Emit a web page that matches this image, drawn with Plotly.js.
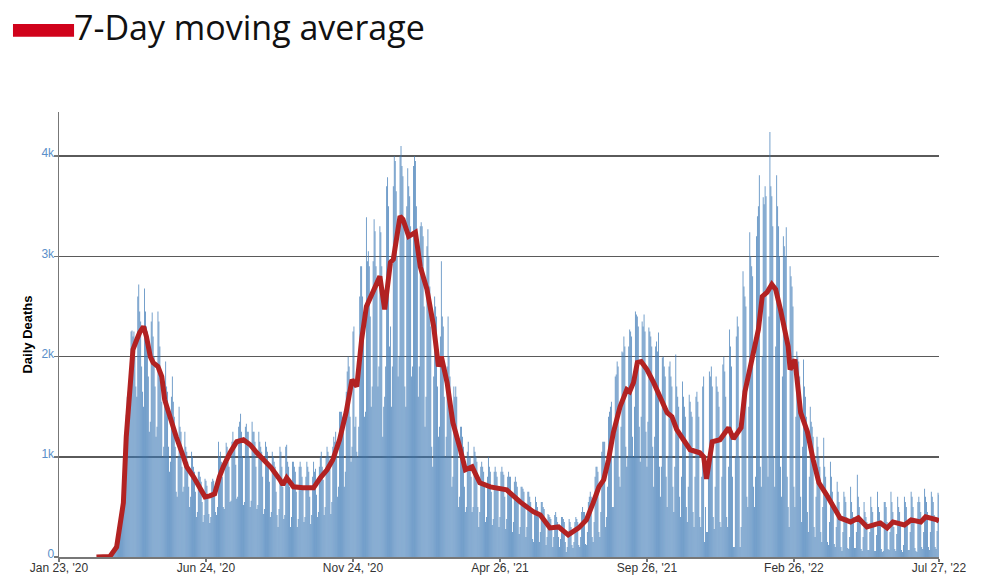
<!DOCTYPE html>
<html><head><meta charset="utf-8">
<script src="https://cdn.plot.ly/plotly-3.0.1.min.js"></script>
<style>html,body{margin:0;padding:0;background:#fff}#chart{width:987px;height:576px}</style>
</head><body><div id="chart"></div>
<script>
// First day of the daily series (a Sunday); one row per week below
const startDate = '2020-03-01';
const dailyDeaths = [
1,1,2,1,3,2,2,
2,4,5,6,8,9,12,
12,18,25,35,40,55,60,
110,140,190,240,280,370,420,
620,780,1050,1250,1420,1600,1650,
1500,1600,2250,2260,2200,2250,2000,
1700,1600,2600,2720,2450,2350,1900,
1650,1500,2680,2450,2300,2250,1800,
1250,1350,2350,2440,2200,2000,1700,
1200,1300,2450,2350,2100,1800,1550,
1000,1100,1750,1950,1700,1650,1100,
850,950,1600,1800,1550,1400,1100,
650,600,1000,1500,1300,1250,900,
650,700,1250,1100,1050,950,700,
500,600,1050,1000,900,850,650,
400,450,850,850,800,750,550,
350,420,780,760,710,620,430,
340,400,750,780,760,700,450,
420,500,1150,1000,1050,950,800,
500,480,1000,1140,1100,950,900,
550,560,1150,1250,1150,1100,920,
580,600,1300,1350,1430,1250,1000,
520,550,1300,1330,1250,1250,1000,
500,560,1350,1250,1250,1150,900,
480,520,1250,1150,1100,1050,800,
430,480,1150,1100,1050,950,750,
400,450,1050,1000,950,900,650,
420,300,480,1100,1050,900,700,
380,420,1100,1120,950,900,700,
300,400,950,950,900,850,650,
300,380,900,950,900,800,700,
350,400,800,950,900,850,600,
330,420,800,950,850,880,620,
400,450,900,1000,1050,900,770,
420,500,1000,1100,1050,1000,900,
430,550,1100,1200,1150,1250,1100,
600,700,1450,1450,1450,1400,1250,
700,850,1650,1850,2000,1900,1400,
950,1100,2250,2300,1300,1400,1050,
1000,1300,2600,2900,2900,2600,2300,
1400,1450,3390,2950,3050,2900,2400,
1500,1700,2950,3370,3250,2900,2700,
1700,1900,3300,3240,2900,1200,1500,
1600,1900,3700,3790,3500,2100,2300,
1500,1900,3700,4000,3950,3650,3000,
1800,2000,4000,4100,3900,3800,3300,
1700,1500,3500,3880,3700,3600,3300,
1800,1900,3900,4000,3950,3500,3100,
1600,1900,3300,3340,3300,3200,2500,
1300,1600,3100,3270,3000,2700,2300,
1100,900,1800,2600,2500,2400,1700,
1200,1300,2200,2950,2400,2300,1600,
1000,1200,1900,2400,2000,1800,1400,
700,800,1700,1600,1700,1600,1100,
500,600,1300,1300,1200,1100,700,
450,500,1050,1150,1000,1000,800,
450,500,1100,1050,1000,950,500,
300,450,900,950,900,850,700,
350,400,800,1000,900,850,650,
320,380,850,900,850,800,700,
300,400,850,900,850,820,600,
280,380,800,850,800,800,600,
250,350,750,800,750,700,550,
230,300,700,700,680,650,500,
200,300,650,650,600,550,450,
180,150,450,600,550,500,400,
150,250,550,550,500,480,350,
120,200,430,420,400,380,280,
100,200,420,450,400,350,200,
100,180,400,400,380,350,150,
50,100,250,380,350,300,120,
90,150,350,400,380,350,120,
100,200,450,500,450,450,130,
120,250,550,600,650,600,200,
150,350,800,900,900,850,250,
200,450,1050,1150,1150,1150,300,
400,700,1400,1450,1500,1550,500,
500,1000,1800,1820,1950,1900,800,
700,1300,2050,2040,2200,2100,1100,
900,1000,2100,2270,2250,2200,1200,
1000,1500,2450,2420,2400,2300,1300,
950,1400,2350,2300,2420,2250,1250,
900,1350,2290,2250,2200,2100,1100,
700,1200,2100,2150,2050,2240,900,
600,900,1990,2000,1900,1800,800,
500,1000,1900,1950,1800,1700,700,
450,900,2020,1700,1600,1500,600,
400,800,1750,1600,1500,1400,500,
350,700,1620,1550,1450,1400,450,
300,800,1600,1650,1550,1400,400,
300,800,1700,1800,150,500,250,
250,900,1850,1800,1900,1700,400,
280,700,1800,1700,1650,1500,350,
300,800,1920,2000,1850,1600,400,
300,900,2270,2100,1900,800,100,
100,1000,2200,2400,2300,1000,100,
300,1400,2850,2700,2600,2500,600,
500,1500,3240,3000,2900,2800,700,
500,800,3200,3400,3500,3810,900,
700,2000,3590,3520,3700,3600,1000,
800,2400,4240,3700,3600,3300,1000,
700,2100,3810,3500,3300,3000,900,
600,1800,3200,3100,3000,3290,800,
500,300,2900,2800,2700,2500,700,
500,1400,2050,2000,1950,1800,600,
350,1100,1970,1700,1600,1400,450,
250,800,1500,1350,1300,1200,300,
200,600,1200,1100,1000,900,250,
150,500,1190,900,800,650,150,
120,350,950,800,650,550,130,
100,300,750,650,550,400,100,
60,250,650,600,550,400,90,
80,200,700,550,450,400,90,
90,250,820,600,500,400,80,
60,200,550,450,400,350,70,
70,250,600,500,450,300,60,
60,220,650,500,450,350,80,
50,60,550,550,500,350,80,
70,250,650,550,450,300,80,
60,230,600,500,450,320,70,
50,120,600,550,500,350,70,
70,250,650,600,500,350,90,
60,50,550,600,550,450,100,
80,250,680,600,550,450,100,
70,250,650,600,550,420,100,
80,260,640,620
];

// 7-day moving average
const avgDates = [
'2020-03-02','2020-03-16','2020-03-23','2020-03-26','2020-03-30','2020-04-02','2020-04-06','2020-04-09',
'2020-04-13','2020-04-16','2020-04-20','2020-04-23','2020-04-27','2020-04-30','2020-05-05','2020-05-09',
'2020-05-12','2020-05-17','2020-05-24','2020-05-30','2020-06-04','2020-06-11','2020-06-18','2020-06-23',
'2020-06-28','2020-07-03','2020-07-08','2020-07-12','2020-07-19','2020-07-26','2020-08-02','2020-08-09',
'2020-08-16','2020-08-23','2020-08-31','2020-09-09','2020-09-12','2020-09-16','2020-09-23','2020-10-03',
'2020-10-14','2020-10-21','2020-10-28','2020-11-03','2020-11-10','2020-11-17','2020-11-23','2020-11-28',
'2020-12-03','2020-12-08','2020-12-15','2020-12-22','2020-12-27','2021-01-02','2021-01-05','2021-01-12',
'2021-01-15','2021-01-21','2021-01-28','2021-02-02','2021-02-09','2021-02-16','2021-02-21','2021-02-24',
'2021-03-02','2021-03-08','2021-03-15','2021-03-21','2021-03-28','2021-04-05','2021-04-16','2021-05-03',
'2021-05-17','2021-05-31','2021-06-07','2021-06-17','2021-06-26','2021-07-06','2021-07-17','2021-07-25',
'2021-08-01','2021-08-07','2021-08-12','2021-08-17','2021-08-22','2021-08-29','2021-09-05','2021-09-08',
'2021-09-12','2021-09-16','2021-09-20','2021-09-26','2021-10-03','2021-10-10','2021-10-17','2021-10-22',
'2021-10-27','2021-11-03','2021-11-10','2021-11-20','2021-11-24','2021-11-27','2021-12-03','2021-12-11',
'2021-12-20','2021-12-25','2022-01-02','2022-01-06','2022-01-12','2022-01-15','2022-01-20','2022-01-24',
'2022-01-29','2022-02-03','2022-02-07','2022-02-12','2022-02-17','2022-02-20','2022-02-22','2022-02-27',
'2022-03-05','2022-03-12','2022-03-18','2022-03-24','2022-04-01','2022-04-08','2022-04-15','2022-04-26',
'2022-05-04','2022-05-13','2022-05-27','2022-06-03','2022-06-09','2022-06-21','2022-06-28','2022-07-08',
'2022-07-13','2022-07-25','2022-07-27'
];
const avgValues = [
0,5,100,300,540,1200,1770,2070,
2170,2240,2300,2200,2000,1940,1900,1800,
1570,1400,1200,1040,900,800,670,600,
610,630,800,900,1040,1150,1170,1120,
1040,970,890,770,720,790,700,690,
690,790,870,970,1170,1450,1770,1700,
2170,2500,2640,2800,2470,2940,2970,3400,
3370,3200,3240,2900,2670,2300,1900,2000,
1740,1340,1100,870,900,740,700,670,
550,450,420,290,300,220,290,370,
540,700,770,970,1240,1500,1670,1650,
1740,1940,1950,1870,1740,1600,1440,1400,
1270,1170,1070,1040,1000,780,1150,1170,
1290,1180,1290,1650,1940,2070,2270,2600,
2640,2720,2670,2470,2270,2100,1870,1970,
1440,1250,970,740,620,500,390,350,
390,300,340,290,350,320,370,350,
400,370,360
];

const xRange = ['2020-01-23', '2022-07-27'];
const tickDates = ['2020-01-23','2020-06-24','2020-11-24','2021-04-26','2021-09-26','2022-02-26','2022-07-27'];
const tickLabels = ["Jan 23, '20","Jun 24, '20","Nov 24, '20","Apr 26, '21","Sep 26, '21","Feb 26, '22","Jul 27, '22"];
const yTickValues = [0, 1000, 2000, 3000, 4000];
const yTickLabels = ['0', '1k', '2k', '3k', '4k'];
const yTitle = 'Daily Deaths';
const legendLabel = '7-Day moving average';

function addDays(iso, n) {
  const d = new Date(iso + 'T00:00:00Z');
  d.setUTCDate(d.getUTCDate() + n);
  return d.toISOString().slice(0, 10);
}
const dailyDates = dailyDeaths.map((_, i) => addDays(startDate, i));

const bars = {
  type: 'bar', x: dailyDates, y: dailyDeaths,
  marker: {color: 'rgba(62,122,182,0.78)', line: {width: 0}},
  hoverinfo: 'skip', showlegend: false
};
const line = {
  type: 'scatter', mode: 'lines', x: avgDates, y: avgValues,
  line: {color: '#b22222', width: 5},
  hoverinfo: 'skip', showlegend: false, name: legendLabel
};

// plot area: x 59..939 px, y 112..557 px
const layout = {
  width: 987, height: 576,
  margin: {l: 59, r: 48, t: 112, b: 19, pad: 0},
  paper_bgcolor: '#fff', plot_bgcolor: '#fff',
  font: {family: 'Liberation Sans, Arial, sans-serif', size: 12, color: '#333'},
  bargap: 0.05,
  showlegend: false,
  xaxis: {
    type: 'date', range: xRange, tickmode: 'array', tickvals: tickDates, ticktext: tickLabels,
    tickfont: {size: 12, color: '#333'}, ticks: 'outside', ticklen: 3, tickcolor: '#777', tickwidth: 1.5,
    ticklabelstandoff: -4,
    showline: true, linecolor: '#777', linewidth: 1.5, showgrid: false, zeroline: false,
    automargin: false, fixedrange: true
  },
  yaxis: {
    range: [0, 4440], tickmode: 'array', tickvals: yTickValues, ticktext: yTickLabels,
    tickfont: {size: 12, color: '#5b8fc9'}, ticks: 'outside', ticklen: 4, tickcolor: '#777', tickwidth: 1.5,
    ticklabelstandoff: -3, ticklabelshift: -3,
    showline: true, linecolor: '#777', linewidth: 1.5,
    showgrid: true, gridcolor: '#5a5a5a', gridwidth: 1.5, zeroline: false,
    title: {text: '<b>' + yTitle + '</b>', font: {size: 13, color: '#000'}, standoff: 6},
    automargin: false, fixedrange: true
  },
  shapes: [{
    type: 'rect', xref: 'paper', yref: 'paper',
    x0: -0.0523, x1: 0.0171, y0: 1.1692, y1: 1.1978,
    fillcolor: '#d0021b', line: {width: 0}
  }],
  annotations: [{
    text: legendLabel, xref: 'paper', yref: 'paper', x: 0.0148, y: 1.192,
    xanchor: 'left', yanchor: 'middle', showarrow: false,
    font: {family: 'Open Sans', size: 34, color: '#111'}
  }]
};

Plotly.newPlot('chart', [bars, line], layout, {displayModeBar: false, staticPlot: true});
</script>
</body></html>
